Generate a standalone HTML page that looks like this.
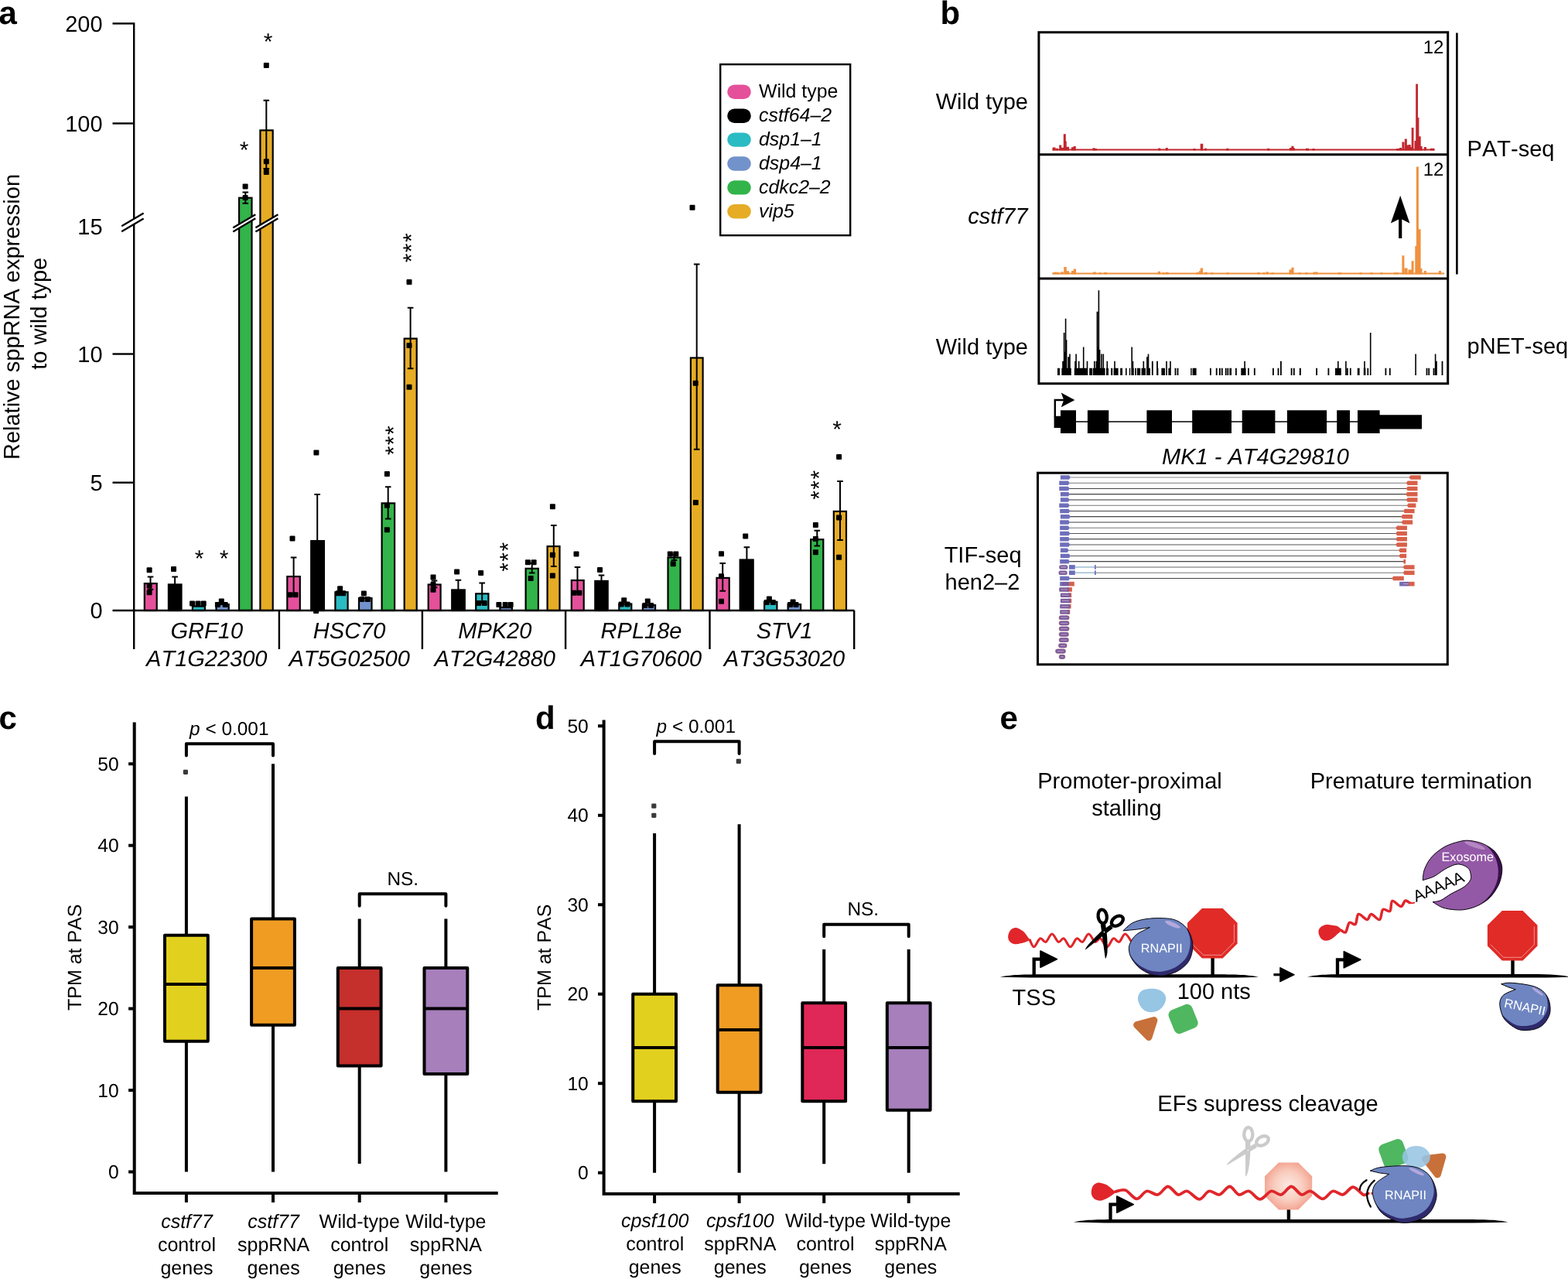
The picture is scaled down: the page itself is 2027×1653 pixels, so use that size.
<!DOCTYPE html>
<html lang="en"><head><meta charset="utf-8"><title>Figure</title>
<style>
html,body{margin:0;padding:0;background:#fff;}
body{width:2027px;height:1653px;overflow:hidden;font-family:"Liberation Sans",Arial,Helvetica,sans-serif;}
svg{display:block;font-kerning:none;text-rendering:geometricPrecision;}
</style></head><body>
<svg width="2027" height="1653" viewBox="0 0 2027 1653">
<rect width="2027" height="1653" fill="#fff"/>
<g id="pa">
<rect x="186.8" y="754.1" width="15.9" height="34.9" fill="#E5509B" stroke="#000" stroke-width="2.2"/>
<rect x="217.9" y="755.4" width="16.6" height="33.6" fill="#000000" stroke="#000" stroke-width="2.2"/>
<rect x="248.9" y="783.6" width="16" height="5.4" fill="#2BBBC3" stroke="#000" stroke-width="2.2"/>
<rect x="279.5" y="781.1" width="16.2" height="7.9" fill="#7292CB" stroke="#000" stroke-width="2.2"/>
<rect x="309.1" y="255.7" width="16.4" height="533.3" fill="#32B44A" stroke="#000" stroke-width="2.2"/>
<rect x="336.4" y="168.4" width="16.3" height="620.6" fill="#E6AC25" stroke="#000" stroke-width="2.2"/>
<rect x="371.3" y="745.1" width="16.5" height="43.9" fill="#E5509B" stroke="#000" stroke-width="2.2"/>
<rect x="402.2" y="699.1" width="16.7" height="89.9" fill="#000000" stroke="#000" stroke-width="2.2"/>
<rect x="433.4" y="765.3" width="16.2" height="23.7" fill="#2BBBC3" stroke="#000" stroke-width="2.2"/>
<rect x="464" y="773.1" width="16.5" height="15.9" fill="#7292CB" stroke="#000" stroke-width="2.2"/>
<rect x="493.6" y="650.4" width="16.5" height="138.6" fill="#32B44A" stroke="#000" stroke-width="2.2"/>
<rect x="522.7" y="437.6" width="16" height="351.4" fill="#E6AC25" stroke="#000" stroke-width="2.2"/>
<rect x="553.7" y="755.5" width="15.9" height="33.5" fill="#E5509B" stroke="#000" stroke-width="2.2"/>
<rect x="584.2" y="762.4" width="16.6" height="26.6" fill="#000000" stroke="#000" stroke-width="2.2"/>
<rect x="615.2" y="767.3" width="16.2" height="21.7" fill="#2BBBC3" stroke="#000" stroke-width="2.2"/>
<rect x="646.4" y="785.1" width="15.5" height="3.9" fill="#7292CB" stroke="#000" stroke-width="2.2"/>
<rect x="679.6" y="734.8" width="16.3" height="54.2" fill="#32B44A" stroke="#000" stroke-width="2.2"/>
<rect x="707.6" y="706.1" width="15.9" height="82.9" fill="#E6AC25" stroke="#000" stroke-width="2.2"/>
<rect x="738.8" y="750" width="15.9" height="39" fill="#E5509B" stroke="#000" stroke-width="2.2"/>
<rect x="769.3" y="750.9" width="16.4" height="38.1" fill="#000000" stroke="#000" stroke-width="2.2"/>
<rect x="800.3" y="780.5" width="16" height="8.5" fill="#2BBBC3" stroke="#000" stroke-width="2.2"/>
<rect x="830.9" y="782.1" width="16.2" height="6.9" fill="#7292CB" stroke="#000" stroke-width="2.2"/>
<rect x="863.5" y="720.5" width="16.1" height="68.5" fill="#32B44A" stroke="#000" stroke-width="2.2"/>
<rect x="892.9" y="462.5" width="15.7" height="326.5" fill="#E6AC25" stroke="#000" stroke-width="2.2"/>
<rect x="926.5" y="746.9" width="16.2" height="42.1" fill="#E5509B" stroke="#000" stroke-width="2.2"/>
<rect x="956.7" y="723.5" width="17" height="65.5" fill="#000000" stroke="#000" stroke-width="2.2"/>
<rect x="988.1" y="777.8" width="16.3" height="11.2" fill="#2BBBC3" stroke="#000" stroke-width="2.2"/>
<rect x="1018.6" y="781.1" width="16.5" height="7.9" fill="#7292CB" stroke="#000" stroke-width="2.2"/>
<rect x="1048.1" y="697.2" width="16.2" height="91.8" fill="#32B44A" stroke="#000" stroke-width="2.2"/>
<rect x="1077.8" y="660.9" width="16.2" height="128.1" fill="#E6AC25" stroke="#000" stroke-width="2.2"/>
<path d="M173.2 29.2V790.2" stroke="#000" stroke-width="2.4" fill="none"/>
<path d="M145.5 789H1104.5" stroke="#000" stroke-width="2.4" fill="none"/>
<path d="M145.5 30.4H173.2" stroke="#000" stroke-width="2.4"/>
<path d="M145.5 159.5H173.2" stroke="#000" stroke-width="2.4"/>
<path d="M145.5 457.5H173.2" stroke="#000" stroke-width="2.4"/>
<path d="M145.5 623.7H173.2" stroke="#000" stroke-width="2.4"/>
<path d="M173.2 789V839" stroke="#000" stroke-width="2.4"/>
<path d="M360.9 789V839" stroke="#000" stroke-width="2.4"/>
<path d="M545.9 789V839" stroke="#000" stroke-width="2.4"/>
<path d="M731.1 789V839" stroke="#000" stroke-width="2.4"/>
<path d="M917.5 789V839" stroke="#000" stroke-width="2.4"/>
<path d="M1104.2 789V839" stroke="#000" stroke-width="2.4"/>
<polygon points="157.2,292.28 185.6,275.52 185.6,282.52 157.2,299.28" fill="#fff"/>
<path d="M157.2 292.28L185.6 275.52M157.2 299.28L185.6 282.52" stroke="#000" stroke-width="2.3" fill="none"/>
<polygon points="301.3,294.25 330.3,277.14 330.3,282.35 301.3,299.46" fill="#fff"/>
<path d="M301.3 294.25L330.3 277.14M301.3 299.46L330.3 282.35" stroke="#000" stroke-width="2.3" fill="none"/>
<polygon points="330.4,294.25 359.4,277.14 359.4,282.35 330.4,299.46" fill="#fff"/>
<path d="M330.4 294.25L359.4 277.14M330.4 299.46L359.4 282.35" stroke="#000" stroke-width="2.3" fill="none"/>
<path d="M194.5 745.4V761.8 M190.7 745.4H198.3 M190.7 761.8H198.3" stroke="#000" stroke-width="2" fill="none"/>
<path d="M226.1 745.4V756.3 M222.3 745.4H229.9" stroke="#000" stroke-width="2" fill="none"/>
<path d="M317.3 248.6V262.8 M313.5 248.6H321.1 M313.5 262.8H321.1" stroke="#000" stroke-width="2" fill="none"/>
<path d="M344.3 129.8V218 M340.5 129.8H348.1 M340.5 218H348.1" stroke="#000" stroke-width="2" fill="none"/>
<path d="M379.6 720.4V768.7 M375.8 720.4H383.4 M375.8 768.7H383.4" stroke="#000" stroke-width="2" fill="none"/>
<path d="M410.2 639V700 M406.4 639H414" stroke="#000" stroke-width="2" fill="none"/>
<path d="M501.7 629.2V670.6 M497.9 629.2H505.5 M497.9 670.6H505.5" stroke="#000" stroke-width="2" fill="none"/>
<path d="M530.6 397.7V476.2 M526.8 397.7H534.4 M526.8 476.2H534.4" stroke="#000" stroke-width="2" fill="none"/>
<path d="M561.5 750.4V759.3 M557.7 750.4H565.3 M557.7 759.3H565.3" stroke="#000" stroke-width="2" fill="none"/>
<path d="M592.4 749.8V763.3 M588.6 749.8H596.2" stroke="#000" stroke-width="2" fill="none"/>
<path d="M623.2 753.4V779 M619.4 753.4H627 M619.4 779H627" stroke="#000" stroke-width="2" fill="none"/>
<path d="M687.7 727.7V740.6 M683.9 727.7H691.5 M683.9 740.6H691.5" stroke="#000" stroke-width="2" fill="none"/>
<path d="M715.8 679V732.1 M712 679H719.6 M712 732.1H719.6" stroke="#000" stroke-width="2" fill="none"/>
<path d="M746.5 733V766 M742.7 733H750.3 M742.7 766H750.3" stroke="#000" stroke-width="2" fill="none"/>
<path d="M777.5 743.5V751.8 M773.7 743.5H781.3" stroke="#000" stroke-width="2" fill="none"/>
<path d="M871.5 716.5V724 M867.7 716.5H875.3 M867.7 724H875.3" stroke="#000" stroke-width="2" fill="none"/>
<path d="M900.7 341.6V580.7 M896.9 341.6H904.5 M896.9 580.7H904.5" stroke="#000" stroke-width="2" fill="none"/>
<path d="M934.2 728.1V763.7 M930.4 728.1H938 M930.4 763.7H938" stroke="#000" stroke-width="2" fill="none"/>
<path d="M965.4 707.2V724.4 M961.6 707.2H969.2" stroke="#000" stroke-width="2" fill="none"/>
<path d="M1056.3 685.8V705.5 M1052.5 685.8H1060.1 M1052.5 705.5H1060.1" stroke="#000" stroke-width="2" fill="none"/>
<path d="M1086 622V697.9 M1082.2 622H1089.8 M1082.2 697.9H1089.8" stroke="#000" stroke-width="2" fill="none"/>
<rect x="189.6" y="733.2" width="7" height="7" rx="1" fill="#000"/>
<rect x="189.6" y="753.4" width="7" height="7" rx="1" fill="#000"/>
<rect x="189.6" y="762.2" width="7" height="7" rx="1" fill="#000"/>
<rect x="221" y="731.9" width="7" height="7" rx="1" fill="#000"/>
<rect x="245" y="776.5" width="7" height="7" rx="1" fill="#000"/>
<rect x="252.5" y="776.5" width="7" height="7" rx="1" fill="#000"/>
<rect x="259.7" y="776.5" width="7" height="7" rx="1" fill="#000"/>
<rect x="282.8" y="773.5" width="7" height="7" rx="1" fill="#000"/>
<rect x="277.9" y="778" width="7" height="7" rx="1" fill="#000"/>
<rect x="287.7" y="778" width="7" height="7" rx="1" fill="#000"/>
<rect x="313.6" y="237.6" width="7" height="7" rx="1" fill="#000"/>
<rect x="313.6" y="252" width="7" height="7" rx="1" fill="#000"/>
<rect x="340.8" y="81" width="7" height="7" rx="1" fill="#000"/>
<rect x="340.8" y="205.3" width="7" height="7" rx="1" fill="#000"/>
<rect x="340.8" y="219.1" width="7" height="7" rx="1" fill="#000"/>
<rect x="374.5" y="692.6" width="7" height="7" rx="1" fill="#000"/>
<rect x="371.5" y="765.2" width="7" height="7" rx="1" fill="#000"/>
<rect x="378.5" y="765.2" width="7" height="7" rx="1" fill="#000"/>
<rect x="405.4" y="581.6" width="7" height="7" rx="1" fill="#000"/>
<rect x="405.1" y="785.9" width="7" height="7" rx="1" fill="#000"/>
<rect x="436.1" y="757.3" width="7" height="7" rx="1" fill="#000"/>
<rect x="433.7" y="763.2" width="7" height="7" rx="1" fill="#000"/>
<rect x="440.2" y="763.2" width="7" height="7" rx="1" fill="#000"/>
<rect x="466.9" y="763.6" width="7" height="7" rx="1" fill="#000"/>
<rect x="464.3" y="771.1" width="7" height="7" rx="1" fill="#000"/>
<rect x="471.8" y="771.1" width="7" height="7" rx="1" fill="#000"/>
<rect x="496.9" y="608.9" width="7" height="7" rx="1" fill="#000"/>
<rect x="496.9" y="649.8" width="7" height="7" rx="1" fill="#000"/>
<rect x="496.9" y="681.3" width="7" height="7" rx="1" fill="#000"/>
<rect x="525.5" y="361" width="7" height="7" rx="1" fill="#000"/>
<rect x="525.5" y="443.1" width="7" height="7" rx="1" fill="#000"/>
<rect x="525.5" y="496.8" width="7" height="7" rx="1" fill="#000"/>
<rect x="556.5" y="742.5" width="7" height="7" rx="1" fill="#000"/>
<rect x="556.5" y="751.8" width="7" height="7" rx="1" fill="#000"/>
<rect x="556.5" y="758.7" width="7" height="7" rx="1" fill="#000"/>
<rect x="587.1" y="735.5" width="7" height="7" rx="1" fill="#000"/>
<rect x="618.1" y="736.9" width="7" height="7" rx="1" fill="#000"/>
<rect x="615.2" y="775.9" width="7" height="7" rx="1" fill="#000"/>
<rect x="622.7" y="775.9" width="7" height="7" rx="1" fill="#000"/>
<rect x="641.4" y="778.1" width="7" height="7" rx="1" fill="#000"/>
<rect x="649.7" y="778.1" width="7" height="7" rx="1" fill="#000"/>
<rect x="656.6" y="778.1" width="7" height="7" rx="1" fill="#000"/>
<rect x="678.9" y="723.3" width="7" height="7" rx="1" fill="#000"/>
<rect x="686.6" y="723.3" width="7" height="7" rx="1" fill="#000"/>
<rect x="682.7" y="744" width="7" height="7" rx="1" fill="#000"/>
<rect x="710.9" y="651.2" width="7" height="7" rx="1" fill="#000"/>
<rect x="710.9" y="713.8" width="7" height="7" rx="1" fill="#000"/>
<rect x="710.9" y="740.6" width="7" height="7" rx="1" fill="#000"/>
<rect x="741.5" y="712.4" width="7" height="7" rx="1" fill="#000"/>
<rect x="738.5" y="762.7" width="7" height="7" rx="1" fill="#000"/>
<rect x="745.4" y="762.7" width="7" height="7" rx="1" fill="#000"/>
<rect x="772" y="733.1" width="7" height="7" rx="1" fill="#000"/>
<rect x="803.2" y="772.2" width="7" height="7" rx="1" fill="#000"/>
<rect x="799.7" y="777.5" width="7" height="7" rx="1" fill="#000"/>
<rect x="807.5" y="777.5" width="7" height="7" rx="1" fill="#000"/>
<rect x="833.8" y="773.5" width="7" height="7" rx="1" fill="#000"/>
<rect x="830.2" y="779.1" width="7" height="7" rx="1" fill="#000"/>
<rect x="838.1" y="779.1" width="7" height="7" rx="1" fill="#000"/>
<rect x="862.8" y="712.4" width="7" height="7" rx="1" fill="#000"/>
<rect x="870.3" y="712.4" width="7" height="7" rx="1" fill="#000"/>
<rect x="866.7" y="725.2" width="7" height="7" rx="1" fill="#000"/>
<rect x="891.5" y="264.8" width="7" height="7" rx="1" fill="#000"/>
<rect x="895.7" y="491.8" width="7" height="7" rx="1" fill="#000"/>
<rect x="895.9" y="646" width="7" height="7" rx="1" fill="#000"/>
<rect x="929" y="712.3" width="7" height="7" rx="1" fill="#000"/>
<rect x="929" y="741.3" width="7" height="7" rx="1" fill="#000"/>
<rect x="929" y="773.7" width="7" height="7" rx="1" fill="#000"/>
<rect x="960.2" y="689.5" width="7" height="7" rx="1" fill="#000"/>
<rect x="990.9" y="770.5" width="7" height="7" rx="1" fill="#000"/>
<rect x="987.7" y="774.9" width="7" height="7" rx="1" fill="#000"/>
<rect x="995.8" y="774.9" width="7" height="7" rx="1" fill="#000"/>
<rect x="1021.6" y="774.4" width="7" height="7" rx="1" fill="#000"/>
<rect x="1018" y="778" width="7" height="7" rx="1" fill="#000"/>
<rect x="1025.5" y="778" width="7" height="7" rx="1" fill="#000"/>
<rect x="1050.9" y="675" width="7" height="7" rx="1" fill="#000"/>
<rect x="1050.9" y="693.1" width="7" height="7" rx="1" fill="#000"/>
<rect x="1050.9" y="710.3" width="7" height="7" rx="1" fill="#000"/>
<rect x="1081.1" y="587" width="7" height="7" rx="1" fill="#000"/>
<rect x="1081.1" y="665.6" width="7" height="7" rx="1" fill="#000"/>
<rect x="1081.1" y="716.7" width="7" height="7" rx="1" fill="#000"/>
<g font-family="'Liberation Sans',Arial,Helvetica,sans-serif" font-size="29" fill="#000">
<text x="132.6" y="40.7" text-anchor="end">200</text>
<text x="132.6" y="169.8" text-anchor="end">100</text>
<text x="132.6" y="302.8" text-anchor="end">15</text>
<text x="132.6" y="467.8" text-anchor="end">10</text>
<text x="132.6" y="634" text-anchor="end">5</text>
<text x="132.6" y="799.3" text-anchor="end">0</text>
<text transform="translate(25.2 409.5) rotate(-90)" text-anchor="middle">Relative sppRNA expression</text>
<text transform="translate(59.8 405.3) rotate(-90)" text-anchor="middle">to wild type</text>
<text x="267.3" y="825.2" text-anchor="middle" font-style="italic">GRF10</text>
<text x="267.3" y="860.6" text-anchor="middle" font-style="italic">AT1G22300</text>
<text x="451.6" y="825.2" text-anchor="middle" font-style="italic">HSC70</text>
<text x="451.6" y="860.6" text-anchor="middle" font-style="italic">AT5G02500</text>
<text x="639.8" y="825.2" text-anchor="middle" font-style="italic">MPK20</text>
<text x="639.8" y="860.6" text-anchor="middle" font-style="italic">AT2G42880</text>
<text x="829" y="825.2" text-anchor="middle" font-style="italic">RPL18e</text>
<text x="829" y="860.6" text-anchor="middle" font-style="italic">AT1G70600</text>
<text x="1014" y="825.2" text-anchor="middle" font-style="italic">STV1</text>
<text x="1014" y="860.6" text-anchor="middle" font-style="italic">AT3G53020</text>
<text x="346.5" y="63.9" text-anchor="middle" font-size="30">*</text>
<text x="315.5" y="204" text-anchor="middle" font-size="30">*</text>
<text x="257.7" y="732" text-anchor="middle" font-size="30">*</text>
<text x="289.6" y="732" text-anchor="middle" font-size="30">*</text>
<text x="1082.1" y="565.1" text-anchor="middle" font-size="30">*</text>
<text transform="translate(542.2 307.1) rotate(-90)" text-anchor="middle" font-size="30">*</text>
<text transform="translate(542.2 320.3) rotate(-90)" text-anchor="middle" font-size="30">*</text>
<text transform="translate(542.2 333.5) rotate(-90)" text-anchor="middle" font-size="30">*</text>
<text transform="translate(518.6 556.1) rotate(-90)" text-anchor="middle" font-size="30">*</text>
<text transform="translate(518.6 569.3) rotate(-90)" text-anchor="middle" font-size="30">*</text>
<text transform="translate(518.6 582.5) rotate(-90)" text-anchor="middle" font-size="30">*</text>
<text transform="translate(667.4 706.6) rotate(-90)" text-anchor="middle" font-size="30">*</text>
<text transform="translate(667.4 719.8) rotate(-90)" text-anchor="middle" font-size="30">*</text>
<text transform="translate(667.4 733) rotate(-90)" text-anchor="middle" font-size="30">*</text>
<text transform="translate(1068.6 613.6) rotate(-90)" text-anchor="middle" font-size="30">*</text>
<text transform="translate(1068.6 626.8) rotate(-90)" text-anchor="middle" font-size="30">*</text>
<text transform="translate(1068.6 640) rotate(-90)" text-anchor="middle" font-size="30">*</text>
</g>
<rect x="931.2" y="83.2" width="168" height="221" fill="#fff" stroke="#000" stroke-width="2.4"/>
<g font-family="'Liberation Sans',Arial,Helvetica,sans-serif" font-size="24.9" fill="#000">
<rect x="940.2" y="109.6" width="30.6" height="18.4" rx="9.2" fill="#E5509B"/>
<text x="981" y="126.4">Wild type</text>
<rect x="940.2" y="140.5" width="30.6" height="18.4" rx="9.2" fill="#000000"/>
<text x="981" y="157.3" font-style="italic">cstf64–2</text>
<rect x="940.2" y="171.4" width="30.6" height="18.4" rx="9.2" fill="#2BBBC3"/>
<text x="981" y="188.2" font-style="italic">dsp1–1</text>
<rect x="940.2" y="202.3" width="30.6" height="18.4" rx="9.2" fill="#7292CB"/>
<text x="981" y="219.1" font-style="italic">dsp4–1</text>
<rect x="940.2" y="233.2" width="30.6" height="18.4" rx="9.2" fill="#32B44A"/>
<text x="981" y="250" font-style="italic">cdkc2–2</text>
<rect x="940.2" y="264.1" width="30.6" height="18.4" rx="9.2" fill="#E6AC25"/>
<text x="981" y="280.9" font-style="italic">vip5</text>
</g>
<text x="-1.5" y="30.7" font-family="'Liberation Sans',Arial,sans-serif" font-weight="bold" font-size="42" fill="#000">a</text>
</g>
<g id="pb">
<path d="M1360.6 193.5H1854.8" stroke="#C1272D" stroke-width="2.0" fill="none"/>
<path d="M1360.6 194.5V190.6H1364.6V194.5ZM1365 194.5V191.8H1368V194.5ZM1369.2 194.5V187.6H1372.2V194.5ZM1372 194.5V190.8H1375V194.5ZM1374.8 194.5V173.3H1377.8V194.5ZM1377.25 194.5V182.5H1378.75V194.5ZM1378.6 194.5V189.8H1382V194.5ZM1385 194.5V190.3H1388V194.5ZM1387.6 194.5V189H1390.8V194.5ZM1412.5 194.5V191.2H1415.5V194.5ZM1415 194.5V192H1418V194.5ZM1497.2 194.5V191.4H1500.2V194.5ZM1506.8 194.5V191H1509.8V194.5ZM1542.5 194.5V192H1545.5V194.5ZM1551.7 194.5V185.7H1555.3V194.5ZM1557 194.5V191.8H1560V194.5ZM1585.3 194.5V191.8H1588.3V194.5ZM1638.2 194.5V191.8H1641.2V194.5ZM1667 194.5V191H1670V194.5ZM1669.4 194.5V188.8H1672.4V194.5ZM1671.8 194.5V191H1673.8V194.5ZM1688 194.5V191.8H1692V194.5ZM1696.5 194.5V192H1699.5V194.5ZM1805 194.5V192H1809V194.5ZM1809 194.5V191H1812V194.5ZM1812.4 194.5V183.5H1815.4V194.5ZM1815.8 194.5V179.5H1818.8V194.5ZM1818.75 194.5V187.5H1821.25V194.5ZM1820.7 194.5V187H1823.7V194.5ZM1823.2 194.5V190H1825.2V194.5ZM1824.7 194.5V165H1827.5V194.5ZM1828.5 194.5V182H1830.5V194.5ZM1830.2 194.5V108.4H1833V194.5ZM1832.4 194.5V152H1834.4V194.5ZM1833.7 194.5V176.2H1836.7V194.5ZM1836.6 194.5V189H1838.6V194.5ZM1840.9 194.5V190H1843.9V194.5ZM1849 194.5V191.7H1854V194.5Z" fill="#C1272D"/>
<path d="M1360.6 353.5H1867" stroke="#F0913E" stroke-width="2.0" fill="none"/>
<path d="M1360.5 354.5V352.2H1363.5V354.5ZM1363.3 354.5V351.4H1366.3V354.5ZM1366.5 354.5V352H1369.5V354.5ZM1371.4 354.5V351.3H1374.6V354.5ZM1375.25 354.5V345.1H1378.75V354.5ZM1378.6 354.5V350.3H1382V354.5ZM1385.1 354.5V350H1388.1V354.5ZM1387.8 354.5V347.6H1391V354.5ZM1412.8 354.5V351.6H1416.8V354.5ZM1420.5 354.5V352.2H1423.5V354.5ZM1427 354.5V352H1431V354.5ZM1496.7 354.5V350.8H1500.1V354.5ZM1502.5 354.5V352.2H1505.5V354.5ZM1506.6 354.5V351.8H1510.6V354.5ZM1546.5 354.5V352H1549.5V354.5ZM1549.8 354.5V350.3H1552.8V354.5ZM1551.7 354.5V346.4H1555.1V354.5ZM1556.8 354.5V351.8H1560.8V354.5ZM1565.5 354.5V352.3H1568.5V354.5ZM1585.5 354.5V352.2H1588.5V354.5ZM1625.5 354.5V352H1628.5V354.5ZM1632.5 354.5V352.2H1635.5V354.5ZM1636.7 354.5V351.2H1639.7V354.5ZM1643.5 354.5V352.3H1646.5V354.5ZM1666.5 354.5V348.4H1669.5V354.5ZM1669.4 354.5V345.7H1672.6V354.5ZM1678.5 354.5V352.2H1681.5V354.5ZM1687.5 354.5V352.2H1690.5V354.5ZM1697.6 354.5V351.6H1703.6V354.5ZM1729.5 354.5V352.3H1734.5V354.5ZM1757.5 354.5V352.2H1760.5V354.5ZM1771.5 354.5V352.3H1774.5V354.5ZM1784.5 354.5V352.3H1787.5V354.5ZM1802 354.5V352.2H1808V354.5ZM1812.4 354.5V330.3H1815.4V354.5ZM1815.6 354.5V346.4H1819.6V354.5ZM1820.45 354.5V348.5H1824.95V354.5ZM1824.6 354.5V337.3H1827.6V354.5ZM1829.3 354.5V318H1831.3V354.5ZM1830.9 354.5V215.5H1833.9V354.5ZM1833 354.5V296.3H1836.6V354.5ZM1836.5 354.5V347H1838.5V354.5ZM1840.8 354.5V350H1843.8V354.5ZM1859.9 354.5V350H1863.1V354.5Z" fill="#F0913E"/>
<path d="M1367 484.9V475.77H1370V484.9ZM1372.4 484.9V475.77H1384.8V484.9ZM1373.2 484.9V466.64H1374.8V484.9ZM1374.8 484.9V430.12H1376.4V484.9ZM1376.8 484.9V411.86H1378.4V484.9ZM1377.8 484.9V439.25H1379.4V484.9ZM1375.6 484.9V454.77H1377.6V484.9ZM1380.3 484.9V461.16H1382.1V484.9ZM1382.2 484.9V457.51H1383.8V484.9ZM1388.8 484.9V475.77H1405.9V484.9ZM1389.2 484.9V466.64H1390.8V484.9ZM1390.3 484.9V457.51H1391.9V484.9ZM1393.9 484.9V466.64H1395.5V484.9ZM1399.9 484.9V448.38H1401.5V484.9ZM1404.7 484.9V466.64H1406.3V484.9ZM1408.2 484.9V475.77H1412.2V484.9ZM1412.9 484.9V475.77H1428.6V484.9ZM1414 484.9V466.64H1415.6V484.9ZM1416.5 484.9V466.64H1418.1V484.9ZM1417.6 484.9V402.73H1419.4V484.9ZM1419.6 484.9V375.34H1421.2V484.9ZM1418 484.9V448.38H1421V484.9ZM1420.8 484.9V452.03H1422.4V484.9ZM1423.2 484.9V457.51H1424.8V484.9ZM1425.5 484.9V457.51H1427.1V484.9ZM1430 484.9V475.77H1433V484.9ZM1430.5 484.9V466.64H1432.1V484.9ZM1436.2 484.9V475.77H1438.2V484.9ZM1439.6 484.9V475.77H1445.6V484.9ZM1440.2 484.9V466.64H1441.8V484.9ZM1448.2 484.9V475.77H1451V484.9ZM1455 484.9V475.77H1456.6V484.9ZM1459.8 484.9V475.77H1461.2V484.9ZM1462.4 484.9V475.77H1465.8V484.9ZM1462.4 484.9V448.38H1464V484.9ZM1463.7 484.9V466.64H1465.3V484.9ZM1467.2 484.9V475.77H1469V484.9ZM1470 484.9V475.77H1474.2V484.9ZM1475.6 484.9V475.77H1481V484.9ZM1477.5 484.9V466.64H1479.1V484.9ZM1482 484.9V475.77H1487V484.9ZM1482.1 484.9V461.16H1483.7V484.9ZM1483.7 484.9V457.51H1485.3V484.9ZM1488.9 484.9V466.64H1490.7V484.9ZM1495.1 484.9V466.64H1496.9V484.9ZM1495.2 484.9V475.77H1497.4V484.9ZM1501.4 484.9V475.77H1506V484.9ZM1507.2 484.9V466.64H1508.8V484.9ZM1510.4 484.9V475.77H1513.8V484.9ZM1512.2 484.9V466.64H1513.8V484.9ZM1518.6 484.9V475.77H1520.4V484.9ZM1521.6 484.9V475.77H1523.4V484.9ZM1539.2 484.9V475.77H1540.6V484.9ZM1541.6 484.9V475.77H1546.6V484.9ZM1564 484.9V475.77H1565.8V484.9ZM1571.8 484.9V475.77H1573.6V484.9ZM1576 484.9V475.77H1577.8V484.9ZM1578.9 484.9V475.77H1580.7V484.9ZM1597 484.9V475.77H1598.8V484.9ZM1613 484.9V475.77H1614.8V484.9ZM1620.9 484.9V475.77H1622.7V484.9ZM1583.8 484.9V475.77H1585.6V484.9ZM1586.4 484.9V475.77H1588.2V484.9ZM1589.4 484.9V475.77H1592V484.9ZM1604.3 484.9V475.77H1610.6V484.9ZM1608.3 484.9V466.64H1609.9V484.9ZM1645 484.9V475.77H1646.8V484.9ZM1651.6 484.9V475.77H1653.4V484.9ZM1668.7 484.9V475.77H1670.5V484.9ZM1671.9 484.9V475.77H1673.7V484.9ZM1701.2 484.9V475.77H1703V484.9ZM1716.5 484.9V475.77H1718.3V484.9ZM1740.9 484.9V475.77H1742.7V484.9ZM1744.9 484.9V475.77H1746.7V484.9ZM1767.4 484.9V475.77H1769.2V484.9ZM1790.5 484.9V475.77H1792.3V484.9ZM1795.9 484.9V475.77H1797.7V484.9ZM1843.6 484.9V475.77H1845.4V484.9ZM1846.3 484.9V475.77H1848.1V484.9ZM1852.6 484.9V475.77H1854.4V484.9ZM1655 484.9V466.64H1656.8V484.9ZM1679.8 484.9V475.77H1681.8V484.9ZM1726 484.9V475.77H1733.8V484.9ZM1729 484.9V466.64H1730.6V484.9ZM1739.1 484.9V466.64H1740.7V484.9ZM1754.8 484.9V475.77H1757.6V484.9ZM1762.8 484.9V475.77H1765.4V484.9ZM1763.2 484.9V466.64H1764.8V484.9ZM1770.9 484.9V430.12H1772.5V484.9ZM1829.3 484.9V457.51H1830.9V484.9ZM1854.8 484.9V457.51H1856.4V484.9ZM1855.8 484.9V466.64H1857.8V484.9ZM1863.6 484.9V466.64H1865.4V484.9Z" fill="#000"/>
<path d="M1342.9 41.7H1871.7V495.8H1342.9ZM1342.9 199.8H1871.7M1342.9 359.9H1871.7" fill="none" stroke="#000" stroke-width="3"/>
<path d="M1883.4 42.4V354.6" stroke="#000" stroke-width="2.6" fill="none"/>
<path d="M1810.2 252.8L1822.4 288.6L1812.3 283.4V308H1808.1V283.4L1797.9 288.6Z" fill="#000"/>
<path d="M1371 545H1784" stroke="#000" stroke-width="1.4" fill="none"/>
<path d="M1362.6 537.7H1372V552.9H1362.6ZM1371 530.3H1391V559.9H1371ZM1405.9 530.3H1433.3V559.9H1405.9ZM1482.4 530.3H1515V559.9H1482.4ZM1541.2 530.3H1592V559.9H1541.2ZM1605.7 530.3H1648.4V559.9H1605.7ZM1663.9 530.3H1715.1V559.9H1663.9ZM1728.2 530.3H1745V559.9H1728.2ZM1755 530.3H1783.6V559.9H1755ZM1783 536.2H1838V554.4H1783Z" fill="#000"/>
<path d="M1363.8 538.5V517H1376" stroke="#000" stroke-width="2.4" fill="none"/>
<path d="M1389.4 517L1371.8 507.6L1375.2 517L1371.8 526.2Z" fill="#000"/>
<path d="M1383.1 617H1823.19" stroke="#8a8a8a" stroke-width="1.1" fill="none"/>
<path d="M1370.85 614.2H1382.1L1383.7 617L1382.1 619.8H1370.85Z" fill="#6E6FBB"/>
<path d="M1821.59 617L1823.39 614.2H1836.73V619.8H1823.39Z" fill="#D8604A"/>
<path d="M1381.96 624.25H1819.43" stroke="#777" stroke-width="1.1" fill="none"/>
<path d="M1369.22 621.45H1380.96L1382.56 624.25L1380.96 627.05H1369.22Z" fill="#6E6FBB"/>
<path d="M1817.83 624.25L1819.63 621.45H1832.48V627.05H1819.63Z" fill="#D8604A"/>
<path d="M1381.96 631.49H1819.43" stroke="#444" stroke-width="1.1" fill="none"/>
<path d="M1369.22 628.69H1380.96L1382.56 631.49L1380.96 634.29H1369.22Z" fill="#6E6FBB"/>
<path d="M1817.83 631.49L1819.63 628.69H1832.48V634.29H1819.63Z" fill="#D8604A"/>
<path d="M1382.29 638.74H1818.78" stroke="#111" stroke-width="1.1" fill="none"/>
<path d="M1370.85 635.94H1381.29L1382.89 638.74L1381.29 641.54H1370.85Z" fill="#6E6FBB"/>
<path d="M1817.18 638.74L1818.98 635.94H1832.48V641.54H1818.98Z" fill="#D8604A"/>
<path d="M1381.96 645.99H1819.43" stroke="#333" stroke-width="1.1" fill="none"/>
<path d="M1370.85 643.19H1380.96L1382.56 645.99L1380.96 648.79H1370.85Z" fill="#6E6FBB"/>
<path d="M1817.83 645.99L1819.63 643.19H1832.48V648.79H1819.63Z" fill="#D8604A"/>
<path d="M1381.96 653.24H1820.41" stroke="#777" stroke-width="1.1" fill="none"/>
<path d="M1369.22 650.44H1380.96L1382.56 653.24L1380.96 656.03H1369.22Z" fill="#6E6FBB"/>
<path d="M1818.81 653.24L1820.61 650.44H1830.36V656.03H1820.61Z" fill="#D8604A"/>
<path d="M1382.61 660.48H1815.51" stroke="#444" stroke-width="1.1" fill="none"/>
<path d="M1370.2 657.68H1381.61L1383.21 660.48L1381.61 663.28H1370.2Z" fill="#6E6FBB"/>
<path d="M1813.91 660.48L1815.71 657.68H1828.56V663.28H1815.71Z" fill="#D8604A"/>
<path d="M1383.1 667.73H1812.9" stroke="#111" stroke-width="1.1" fill="none"/>
<path d="M1370.85 664.93H1382.1L1383.7 667.73L1382.1 670.53H1370.85Z" fill="#6E6FBB"/>
<path d="M1811.3 667.73L1813.1 664.93H1826.11V670.53H1813.1Z" fill="#D8604A"/>
<path d="M1382.29 674.98H1813.22" stroke="#444" stroke-width="1.1" fill="none"/>
<path d="M1370.2 672.18H1381.29L1382.89 674.98L1381.29 677.78H1370.2Z" fill="#6E6FBB"/>
<path d="M1811.62 674.98L1813.42 672.18H1826.11V677.78H1813.42Z" fill="#D8604A"/>
<path d="M1381.96 682.22H1805.87" stroke="#777" stroke-width="1.1" fill="none"/>
<path d="M1370.2 679.42H1380.96L1382.56 682.22L1380.96 685.02H1370.2Z" fill="#6E6FBB"/>
<path d="M1804.27 682.22L1806.07 679.42H1818.92V685.02H1806.07Z" fill="#D8604A"/>
<path d="M1382.61 689.47H1805.87" stroke="#555" stroke-width="1.1" fill="none"/>
<path d="M1370.2 686.67H1381.61L1383.21 689.47L1381.61 692.27H1370.2Z" fill="#6E6FBB"/>
<path d="M1804.27 689.47L1806.07 686.67H1818.92V692.27H1806.07Z" fill="#D8604A"/>
<path d="M1382.29 696.72H1805.87" stroke="#222" stroke-width="1.1" fill="none"/>
<path d="M1370.2 693.92H1381.29L1382.89 696.72L1381.29 699.52H1370.2Z" fill="#6E6FBB"/>
<path d="M1804.27 696.72L1806.07 693.92H1818.92V699.52H1806.07Z" fill="#D8604A"/>
<path d="M1382.61 703.96H1805.87" stroke="#555" stroke-width="1.1" fill="none"/>
<path d="M1370.2 701.16H1381.61L1383.21 703.96L1381.61 706.76H1370.2Z" fill="#6E6FBB"/>
<path d="M1804.27 703.96L1806.07 701.16H1818.92V706.76H1806.07Z" fill="#D8604A"/>
<path d="M1380.98 711.21H1809.63" stroke="#777" stroke-width="1.1" fill="none"/>
<path d="M1370.85 708.41H1379.98L1381.58 711.21L1379.98 714.01H1370.85Z" fill="#6E6FBB"/>
<path d="M1808.03 711.21L1809.83 708.41H1818.1V714.01H1809.83Z" fill="#D8604A"/>
<path d="M1383.1 718.46H1809.95" stroke="#555" stroke-width="1.1" fill="none"/>
<path d="M1370.85 715.66H1382.1L1383.7 718.46L1382.1 721.26H1370.85Z" fill="#6E6FBB"/>
<path d="M1808.35 718.46L1810.15 715.66H1818.1V721.26H1810.15Z" fill="#D8604A"/>
<path d="M1382.29 725.71H1815.35" stroke="#111" stroke-width="1.1" fill="none"/>
<path d="M1370.2 722.91H1381.29L1382.89 725.71L1381.29 728.5H1370.2Z" fill="#6E6FBB"/>
<rect x="1814.35" y="722.91" width="2.78" height="5.6" fill="#D8604A"/>
<rect x="1369.22" y="730.15" width="11.11" height="5.6" rx="2.6" fill="#7D5C9C"/>
<path d="M1371.22 732.95H1378.33" stroke="#cfc6dc" stroke-width="0.9"/>
<rect x="1381.96" y="730.15" width="7.84" height="5.6" fill="#6E6FBB"/>
<path d="M1389.8 732.95H1415.29" stroke="#8db3cc" stroke-width="1.3"/>
<rect x="1414.97" y="730.15" width="1.8" height="5.6" fill="#6E6FBB"/>
<path d="M1416.93 732.95H1815.35" stroke="#666" stroke-width="1.1"/>
<path d="M1813.75 732.95L1815.55 730.15H1828.56V735.75H1815.55Z" fill="#D8604A"/>
<rect x="1368.56" y="737.4" width="11.11" height="5.6" rx="2.6" fill="#7D5C9C"/>
<path d="M1370.56 740.2H1377.67" stroke="#cfc6dc" stroke-width="0.9"/>
<rect x="1381.96" y="737.4" width="7.84" height="5.6" fill="#6E6FBB"/>
<path d="M1389.8 740.2H1415.29" stroke="#8db3cc" stroke-width="1.3"/>
<rect x="1414.97" y="737.4" width="1.8" height="5.6" fill="#6E6FBB"/>
<path d="M1416.93 740.2H1815.35" stroke="#777" stroke-width="1.1"/>
<path d="M1813.75 740.2L1815.55 737.4H1828.56V743H1815.55Z" fill="#D8604A"/>
<path d="M1382.61 747.45H1800.97" stroke="#444" stroke-width="1.1" fill="none"/>
<path d="M1370.2 744.65H1381.61L1383.21 747.45L1381.61 750.25H1370.2Z" fill="#6E6FBB"/>
<path d="M1799.37 747.45L1801.17 744.65H1814.84V750.25H1801.17Z" fill="#D8604A"/>
<rect x="1370.2" y="751.89" width="12.42" height="5.6" fill="#6E6FBB"/>
<rect x="1382.29" y="751.89" width="6.54" height="5.6" fill="#D8604A"/>
<rect x="1372.81" y="752.39" width="9.8" height="4.6" rx="2.4" fill="#7D5C9C"/>
<rect x="1809.12" y="751.89" width="12.58" height="5.6" fill="#6E6FBB"/>
<rect x="1821.37" y="751.89" width="7.19" height="5.6" fill="#D8604A"/>
<rect x="1812.71" y="752.39" width="9.15" height="4.6" rx="2.4" fill="#7D5C9C"/>
<path d="M1813.86 754.69H1820.72" stroke="#cfc6dc" stroke-width="0.9"/>
<rect x="1378.96" y="759.14" width="6.92" height="5.6" fill="#D8604A"/>
<rect x="1369.22" y="759.14" width="12.75" height="5.6" rx="1.2" fill="#7D5C9C"/>
<path d="M1371.22 761.94H1379.96" stroke="#b9a9cc" stroke-width="0.9"/>
<rect x="1380.92" y="766.39" width="4.31" height="5.6" fill="#D8604A"/>
<rect x="1370.85" y="766.39" width="13.07" height="5.6" rx="1.2" fill="#7D5C9C"/>
<path d="M1372.85 769.19H1381.92" stroke="#b9a9cc" stroke-width="0.9"/>
<rect x="1380.92" y="773.63" width="4.31" height="5.6" fill="#D8604A"/>
<rect x="1370.85" y="773.63" width="13.07" height="5.6" rx="1.2" fill="#7D5C9C"/>
<path d="M1372.85 776.43H1381.92" stroke="#b9a9cc" stroke-width="0.9"/>
<rect x="1380.27" y="780.88" width="4.31" height="5.6" fill="#D8604A"/>
<rect x="1370.2" y="780.88" width="13.07" height="5.6" rx="1.2" fill="#7D5C9C"/>
<path d="M1372.2 783.68H1381.27" stroke="#b9a9cc" stroke-width="0.9"/>
<rect x="1379.61" y="788.13" width="3.65" height="5.6" fill="#D8604A"/>
<rect x="1370.2" y="788.13" width="12.42" height="5.6" rx="1.2" fill="#7D5C9C"/>
<path d="M1372.2 790.93H1380.61" stroke="#b9a9cc" stroke-width="0.9"/>
<rect x="1368.72" y="795.38" width="13.75" height="5.6" rx="2.6" fill="#c9897f"/>
<rect x="1369.22" y="795.38" width="12.75" height="5.6" rx="2.6" fill="#7D5C9C"/>
<path d="M1371.22 798.17H1379.96" stroke="#b9a9cc" stroke-width="0.9"/>
<rect x="1368.72" y="802.62" width="13.75" height="5.6" rx="2.6" fill="#c9897f"/>
<rect x="1369.22" y="802.62" width="12.75" height="5.6" rx="2.6" fill="#7D5C9C"/>
<path d="M1371.22 805.42H1379.96" stroke="#b9a9cc" stroke-width="0.9"/>
<rect x="1368.72" y="809.87" width="13.75" height="5.6" rx="2.6" fill="#c9897f"/>
<rect x="1369.22" y="809.87" width="12.75" height="5.6" rx="2.6" fill="#7D5C9C"/>
<path d="M1371.22 812.67H1379.96" stroke="#b9a9cc" stroke-width="0.9"/>
<rect x="1368.72" y="817.12" width="13.09" height="5.6" rx="2.6" fill="#c9897f"/>
<rect x="1369.22" y="817.12" width="12.09" height="5.6" rx="2.6" fill="#7D5C9C"/>
<path d="M1371.22 819.92H1379.31" stroke="#b9a9cc" stroke-width="0.9"/>
<rect x="1368.72" y="824.36" width="13.09" height="5.6" rx="2.6" fill="#c9897f"/>
<rect x="1369.22" y="824.36" width="12.09" height="5.6" rx="2.6" fill="#7D5C9C"/>
<path d="M1371.22 827.16H1379.31" stroke="#b9a9cc" stroke-width="0.9"/>
<rect x="1368.06" y="831.61" width="11.46" height="5.6" rx="2.6" fill="#c9897f"/>
<rect x="1368.56" y="831.61" width="10.46" height="5.6" rx="2.6" fill="#7D5C9C"/>
<path d="M1370.56 834.41H1377.02" stroke="#b9a9cc" stroke-width="0.9"/>
<rect x="1364.14" y="838.86" width="13.75" height="5.6" rx="2.6" fill="#c9897f"/>
<rect x="1364.64" y="838.86" width="12.75" height="5.6" rx="2.6" fill="#7D5C9C"/>
<path d="M1366.64 841.66H1375.39" stroke="#b9a9cc" stroke-width="0.9"/>
<rect x="1368.72" y="846.1" width="8.52" height="5.6" rx="2.6" fill="#c9897f"/>
<rect x="1369.22" y="846.1" width="7.52" height="5.6" rx="2.6" fill="#7D5C9C"/>
<path d="M1371.22 848.9H1374.73" stroke="#b9a9cc" stroke-width="0.9"/>
<rect x="1341.5" y="611.2" width="529.8" height="247.6" fill="none" stroke="#000" stroke-width="3"/>
<g font-family="'Liberation Sans',Arial,Helvetica,sans-serif" font-size="29" fill="#000">
<text x="1329" y="141" text-anchor="end">Wild type</text>
<text x="1328.6" y="289.4" text-anchor="end" font-style="italic">cstf77</text>
<text x="1329" y="457.7" text-anchor="end">Wild type</text>
<text x="1896.6" y="202.4">PAT-seq</text>
<text x="1896.6" y="457.4">pNET-seq</text>
<text x="1623" y="599.5" text-anchor="middle" font-style="italic">MK1 - AT4G29810</text>
<text x="1270.6" y="727" text-anchor="middle">TIF-seq</text>
<text x="1270" y="762" text-anchor="middle">hen2–2</text>
<text x="1866.4" y="68.5" text-anchor="end" font-size="24">12</text>
<text x="1866.4" y="226.6" text-anchor="end" font-size="24">12</text>
</g>
<text x="1215.4" y="30.7" font-family="'Liberation Sans',Arial,Helvetica,sans-serif" font-weight="bold" font-size="42" fill="#000">b</text>
</g>
<g id="pc">
<path d="M240.9 1029.43V1208.69M240.9 1345.78V1514.5" stroke="#000" stroke-width="4" fill="none"/>
<rect x="213" y="1208.69" width="55.8" height="137.09" fill="#E2D01F" stroke="#000" stroke-width="4" stroke-linejoin="round"/>
<path d="M213 1271.96H268.8" stroke="#000" stroke-width="4"/>
<path d="M353 987.25V1187.61M353 1324.69V1514.5" stroke="#000" stroke-width="4" fill="none"/>
<rect x="325.1" y="1187.61" width="55.8" height="137.09" fill="#F09C23" stroke="#000" stroke-width="4" stroke-linejoin="round"/>
<path d="M325.1 1250.88H380.9" stroke="#000" stroke-width="4"/>
<path d="M464.7 1187.61V1250.88M464.7 1377.41V1503.95" stroke="#000" stroke-width="4" fill="none"/>
<rect x="436.8" y="1250.88" width="55.8" height="126.54" fill="#C52F2C" stroke="#000" stroke-width="4" stroke-linejoin="round"/>
<path d="M436.8 1303.6H492.6" stroke="#000" stroke-width="4"/>
<path d="M576.4 1187.61V1250.88M576.4 1387.96V1514.5" stroke="#000" stroke-width="4" fill="none"/>
<rect x="548.5" y="1250.88" width="55.8" height="137.09" fill="#A67FBB" stroke="#000" stroke-width="4" stroke-linejoin="round"/>
<path d="M548.5 1303.6H604.3" stroke="#000" stroke-width="4"/>
<rect x="236.8" y="994.69" width="6.2" height="6.2" rx="1.3" fill="#3a3a3a"/>
<path d="M173.7 933.5V1542.1H643.7" stroke="#000" stroke-width="4" fill="none" stroke-linejoin="miter"/>
<path d="M166.1 1514.5H173.7" stroke="#000" stroke-width="4"/>
<path d="M166.1 1409.05H173.7" stroke="#000" stroke-width="4"/>
<path d="M166.1 1303.6H173.7" stroke="#000" stroke-width="4"/>
<path d="M166.1 1198.15H173.7" stroke="#000" stroke-width="4"/>
<path d="M166.1 1092.7H173.7" stroke="#000" stroke-width="4"/>
<path d="M166.1 987.25H173.7" stroke="#000" stroke-width="4"/>
<path d="M240.9 1542.1V1554.1" stroke="#000" stroke-width="4"/>
<path d="M353 1542.1V1554.1" stroke="#000" stroke-width="4"/>
<path d="M464.7 1542.1V1554.1" stroke="#000" stroke-width="4"/>
<path d="M576.4 1542.1V1554.1" stroke="#000" stroke-width="4"/>
<path d="M240.9 976.4V961.2H353V976.4" stroke="#000" stroke-width="4" fill="none" stroke-linejoin="round" stroke-linecap="round"/>
<path d="M464.7 1170.8V1155.2H576.4V1170.8" stroke="#000" stroke-width="4" fill="none" stroke-linejoin="round" stroke-linecap="round"/>
<g font-family="'Liberation Sans',Arial,Helvetica,sans-serif" font-size="25" fill="#000">
<text x="153.6" y="1523.1" text-anchor="end" font-size="24.6">0</text>
<text x="153.6" y="1417.65" text-anchor="end" font-size="24.6">10</text>
<text x="153.6" y="1312.2" text-anchor="end" font-size="24.6">20</text>
<text x="153.6" y="1206.75" text-anchor="end" font-size="24.6">30</text>
<text x="153.6" y="1101.3" text-anchor="end" font-size="24.6">40</text>
<text x="153.6" y="995.85" text-anchor="end" font-size="24.6">50</text>
<text transform="translate(105.3 1237.3) rotate(-90)" text-anchor="middle">TPM at PAS</text>
<text x="296.25" y="949.6" text-anchor="middle" font-size="24.4"><tspan font-style="italic">p</tspan> &lt; 0.001</text>
<text x="520.8" y="1143.8" text-anchor="middle" font-size="24.4">NS.</text>
<text x="241.5" y="1587.1" text-anchor="middle" font-style="italic">cstf77</text>
<text x="241.5" y="1617.1" text-anchor="middle">control</text>
<text x="241.5" y="1646.7" text-anchor="middle">genes</text>
<text x="353.6" y="1587.1" text-anchor="middle" font-style="italic">cstf77</text>
<text x="353.6" y="1617.1" text-anchor="middle">sppRNA</text>
<text x="353.6" y="1646.7" text-anchor="middle">genes</text>
<text x="464.7" y="1587.1" text-anchor="middle">Wild-type</text>
<text x="464.7" y="1617.1" text-anchor="middle">control</text>
<text x="464.7" y="1646.7" text-anchor="middle">genes</text>
<text x="576.4" y="1587.1" text-anchor="middle">Wild-type</text>
<text x="576.4" y="1617.1" text-anchor="middle">sppRNA</text>
<text x="576.4" y="1646.7" text-anchor="middle">genes</text>
</g>
<text x="-1.5" y="942" font-family="'Liberation Sans',Arial,Helvetica,sans-serif" font-weight="bold" font-size="42" fill="#000">c</text>
</g><g id="pd">
<path d="M846.1 1076.88V1284.74M846.1 1423.32V1515.7" stroke="#000" stroke-width="4" fill="none"/>
<rect x="818.2" y="1284.74" width="55.8" height="138.58" fill="#E2D01F" stroke="#000" stroke-width="4" stroke-linejoin="round"/>
<path d="M818.2 1354.03H874" stroke="#000" stroke-width="4"/>
<path d="M955.6 1065.33V1273.19M955.6 1411.77V1515.7" stroke="#000" stroke-width="4" fill="none"/>
<rect x="927.7" y="1273.19" width="55.8" height="138.58" fill="#F09C23" stroke="#000" stroke-width="4" stroke-linejoin="round"/>
<path d="M927.7 1330.93H983.5" stroke="#000" stroke-width="4"/>
<path d="M1065.2 1227V1296.29M1065.2 1423.32V1504.15" stroke="#000" stroke-width="4" fill="none"/>
<rect x="1037.3" y="1296.29" width="55.8" height="127.03" fill="#DF2857" stroke="#000" stroke-width="4" stroke-linejoin="round"/>
<path d="M1037.3 1354.03H1093.1" stroke="#000" stroke-width="4"/>
<path d="M1174.7 1227V1296.29M1174.7 1434.86V1515.7" stroke="#000" stroke-width="4" fill="none"/>
<rect x="1146.8" y="1296.29" width="55.8" height="138.58" fill="#A67FBB" stroke="#000" stroke-width="4" stroke-linejoin="round"/>
<path d="M1146.8 1354.03H1202.6" stroke="#000" stroke-width="4"/>
<rect x="842.2" y="1038.55" width="6.2" height="6.2" rx="1.3" fill="#3a3a3a"/>
<rect x="842.2" y="1050.68" width="6.2" height="6.2" rx="1.3" fill="#3a3a3a"/>
<rect x="951.7" y="980.81" width="6.2" height="6.2" rx="1.3" fill="#3a3a3a"/>
<path d="M780.6 930.6V1543.1H1240.7" stroke="#000" stroke-width="4" fill="none" stroke-linejoin="miter"/>
<path d="M773 1515.7H780.6" stroke="#000" stroke-width="4"/>
<path d="M773 1400.22H780.6" stroke="#000" stroke-width="4"/>
<path d="M773 1284.74H780.6" stroke="#000" stroke-width="4"/>
<path d="M773 1169.26H780.6" stroke="#000" stroke-width="4"/>
<path d="M773 1053.78H780.6" stroke="#000" stroke-width="4"/>
<path d="M773 938.3H780.6" stroke="#000" stroke-width="4"/>
<path d="M846.1 1543.1V1555.1" stroke="#000" stroke-width="4"/>
<path d="M955.6 1543.1V1555.1" stroke="#000" stroke-width="4"/>
<path d="M1065.2 1543.1V1555.1" stroke="#000" stroke-width="4"/>
<path d="M1174.7 1543.1V1555.1" stroke="#000" stroke-width="4"/>
<path d="M846.1 973.9V958.3H955.6V973.9" stroke="#000" stroke-width="4" fill="none" stroke-linejoin="round" stroke-linecap="round"/>
<path d="M1065.2 1210.2V1194.8H1174.7V1210.2" stroke="#000" stroke-width="4" fill="none" stroke-linejoin="round" stroke-linecap="round"/>
<g font-family="'Liberation Sans',Arial,Helvetica,sans-serif" font-size="25" fill="#000">
<text x="760.8" y="1524.3" text-anchor="end" font-size="24.6">0</text>
<text x="760.8" y="1408.82" text-anchor="end" font-size="24.6">10</text>
<text x="760.8" y="1293.34" text-anchor="end" font-size="24.6">20</text>
<text x="760.8" y="1177.86" text-anchor="end" font-size="24.6">30</text>
<text x="760.8" y="1062.38" text-anchor="end" font-size="24.6">40</text>
<text x="760.8" y="946.9" text-anchor="end" font-size="24.6">50</text>
<text transform="translate(711.9 1237.3) rotate(-90)" text-anchor="middle">TPM at PAS</text>
<text x="899.75" y="947.4" text-anchor="middle" font-size="24.4"><tspan font-style="italic">p</tspan> &lt; 0.001</text>
<text x="1115.75" y="1183.2" text-anchor="middle" font-size="24.4">NS.</text>
<text x="846.7" y="1586.4" text-anchor="middle" font-style="italic">cpsf100</text>
<text x="846.7" y="1616.4" text-anchor="middle">control</text>
<text x="846.7" y="1646.1" text-anchor="middle">genes</text>
<text x="956.8" y="1586.4" text-anchor="middle" font-style="italic">cpsf100</text>
<text x="956.8" y="1616.4" text-anchor="middle">sppRNA</text>
<text x="956.8" y="1646.1" text-anchor="middle">genes</text>
<text x="1067" y="1586.4" text-anchor="middle">Wild-type</text>
<text x="1067" y="1616.4" text-anchor="middle">control</text>
<text x="1067" y="1646.1" text-anchor="middle">genes</text>
<text x="1177.3" y="1586.4" text-anchor="middle">Wild-type</text>
<text x="1177.3" y="1616.4" text-anchor="middle">sppRNA</text>
<text x="1177.3" y="1646.1" text-anchor="middle">genes</text>
</g>
<text x="692" y="942" font-family="'Liberation Sans',Arial,Helvetica,sans-serif" font-weight="bold" font-size="42" fill="#000">d</text>
</g>
<g id="pe">
<defs><radialGradient id="fadeg" cx="0.5" cy="0.5" r="0.55"><stop offset="0" stop-color="#FCE9E2"/><stop offset="0.55" stop-color="#F9CDBF"/><stop offset="1" stop-color="#F2A08C"/></radialGradient></defs>
<path d="M1331.3 1214.9C1332.2 1216.38 1334.48 1224.13 1336.7 1223.8C1338.92 1223.47 1342.05 1213.97 1344.6 1212.9C1347.15 1211.83 1349.45 1218.38 1352 1217.4C1354.55 1216.42 1357.18 1207 1359.9 1207C1362.62 1207 1365.75 1216.42 1368.3 1217.4C1370.85 1218.38 1372.65 1211.83 1375.2 1212.9C1377.75 1213.97 1380.8 1223.8 1383.6 1223.8C1386.4 1223.8 1389.37 1213.97 1392 1212.9C1394.63 1211.83 1396.85 1218.38 1399.4 1217.4C1401.95 1216.42 1404.58 1207 1407.3 1207C1410.02 1207 1413.15 1216.42 1415.7 1217.4C1418.25 1218.38 1420.05 1211.83 1422.6 1212.9C1425.15 1213.97 1428.22 1223.8 1431 1223.8C1433.78 1223.8 1436.68 1213.97 1439.3 1212.9C1441.92 1211.83 1444.15 1218.38 1446.7 1217.4C1449.25 1216.42 1451.8 1206.8 1454.6 1207C1457.4 1207.2 1462.02 1216.67 1463.5 1218.6" fill="none" stroke="#E0262B" stroke-width="3.1" stroke-linejoin="round" stroke-linecap="round"/>
<path d="M0 0C-3 -3.5 -5.6 -8.4 -8.9 -11.4C-10.38 -12.13 -15.17 -15.48 -17.8 -15.8C-20.43 -16.12 -22.93 -15.03 -24.7 -13.3C-26.47 -11.57 -28.08 -7.87 -28.4 -5.4C-28.72 -2.93 -28.05 -0.3 -26.6 1.5C-25.15 3.3 -22.48 5 -19.7 5.4C-16.92 5.8 -11.53 4.15 -9.9 3.9C-6 2.6 -3 1.2 0 0Z" transform="translate(1331.6 1214.9) rotate(0) scale(1)" fill="#E0262B"/>
<path d="M1292.8 1262.7C1304.8 1259.8 1322.8 1259.2 1352.8 1259.2H1567C1597 1259.2 1615 1259.8 1627 1262.7C1607 1263.6 1587 1263.6 1567 1263.6H1332.8Z" fill="#000"/>
<path d="M1336.7 1260.5V1239.6H1345.7" stroke="#000" stroke-width="4.3" fill="none"/>
<path d="M1345 1229L1366.5 1239.6L1345 1250.2Z" fill="#000" stroke="#000" stroke-width="1.6" stroke-linejoin="round"/>
<g transform="translate(1427.5 1204.7) rotate(-7.8) scale(1)" fill="#000" stroke="none">
<path d="M-3.3 -10.6L3 -10.6L3 2.4Q2.9 8 2.2 13.3Q1.6 21 0.3 26.9Q-0.8 31.4 -2.7 34L-3.3 33.4L-3.3 0.3Z"/>
<path d="M9 -8.4L11.7 -3.5L3 1.4L-10.6 9.5L-26.9 19.2L-27.3 18.5Q-25 15 -21.5 12.2Q-13 5 -3.3 -1.9Z"/>
<ellipse cx="0.5" cy="-20.4" rx="5.6" ry="8.9" fill="none" stroke="#000" stroke-width="4.3"/>
<ellipse cx="18.7" cy="-12" rx="8.3" ry="5.5" transform="rotate(-28 18.7 -12)" fill="none" stroke="#000" stroke-width="4.3"/>
<circle cx="0" cy="0" r="0.85" fill="#fff"/>
</g>
<path d="M1567.6 1237.5V1261" stroke="#000" stroke-width="4.4" fill="none"/>
<path d="M1553.92 1173.9L1580.68 1173.9L1599.6 1192.82L1599.6 1219.58L1580.68 1238.5L1553.92 1238.5L1535 1219.58L1535 1192.82Z" fill="#E02B27"/>
<path d="M1595.4 1194.56L1595.4 1217.84L1578.94 1234.3L1555.66 1234.3L1539.2 1217.84" fill="none" stroke="#fff" stroke-opacity="0.55" stroke-width="0.9"/>
<g transform="translate(1500.5 1223.8) rotate(0) scale(1)">
<clipPath id="r1"><path d="M-48.7 -20.9C-46.7 -22.57 -41.53 -28.38 -36.7 -30.9C-31.87 -33.42 -26.32 -34.97 -19.7 -36C-13.08 -37.03 -3.62 -37.38 3 -37.1C9.62 -36.82 14.9 -36.47 20 -34.3C25.1 -32.13 30.2 -28.27 33.6 -24.1C37 -19.93 39.17 -14.03 40.4 -9.3C41.63 -4.57 41.75 -0.42 41 4.3C40.25 9.02 38.83 14.65 35.9 19C32.97 23.35 27.95 27.55 23.4 30.4C18.85 33.25 12.77 34.97 8.6 36.1C4.43 37.23 2.18 37.4 -1.6 37.2C-5.38 37 -9.75 36.6 -14.1 34.9C-18.45 33.2 -23.73 30.4 -27.7 27C-31.67 23.6 -35.67 18.48 -37.9 14.5C-40.13 10.52 -40.92 6.5 -41.1 3.1C-41.28 -0.3 -40.67 -2.7 -39 -5.9C-37.33 -9.1 -35.25 -12.88 -31.1 -16.1C-26.95 -19.32 -16.93 -23.68 -14.1 -25.2Q-30 -22.2 -48.7 -20.9 Z"/></clipPath>
<path d="M-48.7 -20.9C-46.7 -22.57 -41.53 -28.38 -36.7 -30.9C-31.87 -33.42 -26.32 -34.97 -19.7 -36C-13.08 -37.03 -3.62 -37.38 3 -37.1C9.62 -36.82 14.9 -36.47 20 -34.3C25.1 -32.13 30.2 -28.27 33.6 -24.1C37 -19.93 39.17 -14.03 40.4 -9.3C41.63 -4.57 41.75 -0.42 41 4.3C40.25 9.02 38.83 14.65 35.9 19C32.97 23.35 27.95 27.55 23.4 30.4C18.85 33.25 12.77 34.97 8.6 36.1C4.43 37.23 2.18 37.4 -1.6 37.2C-5.38 37 -9.75 36.6 -14.1 34.9C-18.45 33.2 -23.73 30.4 -27.7 27C-31.67 23.6 -35.67 18.48 -37.9 14.5C-40.13 10.52 -40.92 6.5 -41.1 3.1C-41.28 -0.3 -40.67 -2.7 -39 -5.9C-37.33 -9.1 -35.25 -12.88 -31.1 -16.1C-26.95 -19.32 -16.93 -23.68 -14.1 -25.2Q-30 -22.2 -48.7 -20.9 Z" fill="#2F2A6C"/>
<g clip-path="url(#r1)"><path d="M-48.7 -20.9C-46.7 -22.57 -41.53 -28.38 -36.7 -30.9C-31.87 -33.42 -26.32 -34.97 -19.7 -36C-13.08 -37.03 -3.62 -37.38 3 -37.1C9.62 -36.82 14.9 -36.47 20 -34.3C25.1 -32.13 30.2 -28.27 33.6 -24.1C37 -19.93 39.17 -14.03 40.4 -9.3C41.63 -4.57 41.75 -0.42 41 4.3C40.25 9.02 38.83 14.65 35.9 19C32.97 23.35 27.95 27.55 23.4 30.4C18.85 33.25 12.77 34.97 8.6 36.1C4.43 37.23 2.18 37.4 -1.6 37.2C-5.38 37 -9.75 36.6 -14.1 34.9C-18.45 33.2 -23.73 30.4 -27.7 27C-31.67 23.6 -35.67 18.48 -37.9 14.5C-40.13 10.52 -40.92 6.5 -41.1 3.1C-41.28 -0.3 -40.67 -2.7 -39 -5.9C-37.33 -9.1 -35.25 -12.88 -31.1 -16.1C-26.95 -19.32 -16.93 -23.68 -14.1 -25.2Q-30 -22.2 -48.7 -20.9 Z" transform="translate(-2.6 -4.6) scale(0.985)" fill="#6E85C1"/><path d="M-50 -22.5L-10 -38L-10 -18L-50 -19Z" fill="#6E85C1"/></g>
<path d="M-48.7 -20.9C-46.7 -22.57 -41.53 -28.38 -36.7 -30.9C-31.87 -33.42 -26.32 -34.97 -19.7 -36C-13.08 -37.03 -3.62 -37.38 3 -37.1C9.62 -36.82 14.9 -36.47 20 -34.3C25.1 -32.13 30.2 -28.27 33.6 -24.1C37 -19.93 39.17 -14.03 40.4 -9.3C41.63 -4.57 41.75 -0.42 41 4.3C40.25 9.02 38.83 14.65 35.9 19C32.97 23.35 27.95 27.55 23.4 30.4C18.85 33.25 12.77 34.97 8.6 36.1C4.43 37.23 2.18 37.4 -1.6 37.2C-5.38 37 -9.75 36.6 -14.1 34.9C-18.45 33.2 -23.73 30.4 -27.7 27C-31.67 23.6 -35.67 18.48 -37.9 14.5C-40.13 10.52 -40.92 6.5 -41.1 3.1C-41.28 -0.3 -40.67 -2.7 -39 -5.9C-37.33 -9.1 -35.25 -12.88 -31.1 -16.1C-26.95 -19.32 -16.93 -23.68 -14.1 -25.2Q-30 -22.2 -48.7 -20.9 Z" fill="none" stroke="#000" stroke-width="0.9" stroke-linejoin="round"/>
<ellipse cx="15.4" cy="-29" rx="10.6" ry="2.7" transform="rotate(23 15.4 -29)" fill="#B4A8DC"/>
</g>
<text transform="translate(1500.5 1223.8) rotate(0)" x="1.3" y="7.2" text-anchor="middle" font-family="'Liberation Sans',Arial,Helvetica,sans-serif" font-size="16.2" fill="#fff">RNAPII</text>
<path d="M-18 -4C-17.5 -6.92 -15.83 -10.63 -13 -12.5C-10.17 -14.37 -5 -15.12 -1 -15.2C3 -15.28 7.83 -14.7 11 -13C14.17 -11.3 17.17 -8 18 -5C18.83 -2 17.5 2.08 16 5C14.5 7.92 11.83 10.8 9 12.5C6.17 14.2 2.17 15.2 -1 15.2C-4.17 15.2 -7.5 14.2 -10 12.5C-12.5 10.8 -14.67 7.75 -16 5C-17.33 2.25 -18.5 -1.08 -18 -4Z" transform="translate(1489 1293)" fill="#97C5E4" fill-opacity="1"/>
<path d="M1469.6 1324.6L1491.9 1318.6L1485 1340.4Z" fill="#C8703A" stroke="#C8703A" stroke-width="9" stroke-linejoin="round" fill-opacity="1" stroke-opacity="1"/>
<rect x="1513.35" y="1300.65" width="32.5" height="32.5" rx="7" transform="rotate(-22 1529.6 1316.9)" fill="#4FB760"/>
<path d="M1646.4 1259.7H1658" stroke="#000" stroke-width="3.2" fill="none"/>
<path d="M1654.8 1250.6L1673.2 1259.7L1654.8 1268.8Z" fill="#000" stroke="#000" stroke-width="1.2" stroke-linejoin="round"/>
<path d="M1690 1262.6C1702 1259.7 1720 1259.1 1750 1259.1H1970C2000 1259.1 2018 1259.7 2030 1262.6C2010 1263.5 1990 1263.5 1970 1263.5H1730Z" fill="#000"/>
<path d="M1729 1260.5V1240.3H1738" stroke="#000" stroke-width="4.3" fill="none"/>
<path d="M1737.3 1229.7L1758.8 1240.3L1737.3 1250.9Z" fill="#000" stroke="#000" stroke-width="1.6" stroke-linejoin="round"/>
<path d="M1955.5 1240.5V1261" stroke="#000" stroke-width="4.4" fill="none"/>
<path d="M1941.82 1176.9L1968.58 1176.9L1987.5 1195.82L1987.5 1222.58L1968.58 1241.5L1941.82 1241.5L1922.9 1222.58L1922.9 1195.82Z" fill="#E02B27"/>
<path d="M1983.3 1197.56L1983.3 1220.84L1966.84 1237.3L1943.56 1237.3L1927.1 1220.84" fill="none" stroke="#fff" stroke-opacity="0.55" stroke-width="0.9"/>
<path d="M1733.67 1202.35C1734.66 1202.75 1737.82 1206.36 1739.59 1204.72C1741.37 1203.08 1742.22 1194.2 1744.33 1192.49C1746.43 1190.78 1750.25 1196.3 1752.22 1194.46C1754.19 1192.62 1753.67 1182.42 1756.17 1181.44C1758.67 1180.45 1764.46 1188.54 1767.22 1188.54C1769.98 1188.54 1770.05 1181.44 1772.74 1181.44C1775.44 1181.44 1780.9 1189.53 1783.4 1188.54C1785.9 1187.55 1785.5 1177.36 1787.74 1175.52C1789.98 1173.68 1794.78 1179.33 1796.82 1177.49C1798.85 1175.65 1797.6 1165.45 1799.97 1164.47C1802.34 1163.48 1808.26 1171.64 1811.02 1171.57C1813.78 1171.5 1814.71 1164.89 1816.55 1164.07C1818.39 1163.26 1821.15 1166.24 1822.07 1166.68" fill="none" stroke="#E0262B" stroke-width="3.5" stroke-linejoin="round" stroke-linecap="round"/>
<path d="M1822 1166.4Q1825 1168 1828.2 1166.6" fill="none" stroke="#E0262B" stroke-width="2" stroke-linecap="round"/>
<path d="M1733.67 1202.35C1733.94 1200.41 1730.91 1198.1 1728.94 1196.99C1726.97 1195.87 1724.2 1195.97 1721.84 1195.64C1719.47 1195.31 1717.03 1194.68 1714.73 1195.01C1712.43 1195.34 1709.73 1196.26 1708.02 1197.62C1706.31 1198.97 1704.8 1201.04 1704.47 1203.14C1704.14 1205.25 1705.19 1208.34 1706.05 1210.24C1706.9 1212.15 1708.15 1213.66 1709.6 1214.59C1711.05 1215.51 1712.82 1215.9 1714.73 1215.77C1716.64 1215.64 1718.94 1214.98 1721.05 1213.8C1723.15 1212.61 1725.26 1210.57 1727.36 1208.67C1729.46 1206.76 1733.41 1204.3 1733.67 1202.35Z" fill="#E0262B"/>
<clipPath id="exc"><path d="M1839.2 1137.7C1839.57 1135.38 1839.53 1128.73 1841.4 1123.8C1843.27 1118.87 1846.1 1112.97 1850.4 1108.1C1854.7 1103.23 1861.05 1098.05 1867.2 1094.6C1873.35 1091.15 1881.7 1088.75 1887.3 1087.4C1892.9 1086.05 1895.75 1085.95 1900.8 1086.5C1905.85 1087.05 1912.38 1088.42 1917.6 1090.7C1922.82 1092.98 1928.37 1096.37 1932.1 1100.2C1935.83 1104.03 1938.4 1109.4 1940 1113.7C1941.6 1118 1942.08 1121.15 1941.7 1126C1941.32 1130.85 1940.23 1137.2 1937.7 1142.8C1935.17 1148.4 1930.78 1155.12 1926.5 1159.6C1922.22 1164.08 1917.22 1167.08 1912 1169.7C1906.78 1172.32 1900.43 1174.28 1895.2 1175.3C1889.97 1176.32 1885.63 1176.18 1880.6 1175.8C1875.57 1175.42 1869.75 1174.68 1865 1173C1860.25 1171.32 1854.25 1166.92 1852.1 1165.7C1853.87 1165.33 1858.7 1165.27 1862.7 1163.5C1866.7 1161.73 1871.07 1158 1876.1 1155.1C1881.13 1152.2 1888.78 1149.08 1892.9 1146.1C1897.02 1143.12 1899.4 1139.8 1900.8 1137.2C1902.2 1134.6 1901.68 1132.93 1901.3 1130.5C1900.92 1128.07 1900.45 1124.75 1898.5 1122.6C1896.55 1120.45 1892.58 1118.43 1889.6 1117.6C1886.62 1116.77 1884.33 1116.57 1880.6 1117.6C1876.87 1118.63 1871.67 1121.28 1867.2 1123.8C1862.73 1126.32 1858.47 1130.38 1853.8 1132.7C1849.13 1135.02 1841.63 1136.87 1839.2 1137.7Z"/></clipPath>
<path d="M1839.2 1137.7C1839.57 1135.38 1839.53 1128.73 1841.4 1123.8C1843.27 1118.87 1846.1 1112.97 1850.4 1108.1C1854.7 1103.23 1861.05 1098.05 1867.2 1094.6C1873.35 1091.15 1881.7 1088.75 1887.3 1087.4C1892.9 1086.05 1895.75 1085.95 1900.8 1086.5C1905.85 1087.05 1912.38 1088.42 1917.6 1090.7C1922.82 1092.98 1928.37 1096.37 1932.1 1100.2C1935.83 1104.03 1938.4 1109.4 1940 1113.7C1941.6 1118 1942.08 1121.15 1941.7 1126C1941.32 1130.85 1940.23 1137.2 1937.7 1142.8C1935.17 1148.4 1930.78 1155.12 1926.5 1159.6C1922.22 1164.08 1917.22 1167.08 1912 1169.7C1906.78 1172.32 1900.43 1174.28 1895.2 1175.3C1889.97 1176.32 1885.63 1176.18 1880.6 1175.8C1875.57 1175.42 1869.75 1174.68 1865 1173C1860.25 1171.32 1854.25 1166.92 1852.1 1165.7C1853.87 1165.33 1858.7 1165.27 1862.7 1163.5C1866.7 1161.73 1871.07 1158 1876.1 1155.1C1881.13 1152.2 1888.78 1149.08 1892.9 1146.1C1897.02 1143.12 1899.4 1139.8 1900.8 1137.2C1902.2 1134.6 1901.68 1132.93 1901.3 1130.5C1900.92 1128.07 1900.45 1124.75 1898.5 1122.6C1896.55 1120.45 1892.58 1118.43 1889.6 1117.6C1886.62 1116.77 1884.33 1116.57 1880.6 1117.6C1876.87 1118.63 1871.67 1121.28 1867.2 1123.8C1862.73 1126.32 1858.47 1130.38 1853.8 1132.7C1849.13 1135.02 1841.63 1136.87 1839.2 1137.7Z" fill="#3A0F4D"/>
<g clip-path="url(#exc)"><ellipse cx="1886" cy="1129.5" rx="51.5" ry="47.5" transform="rotate(-24 1886 1129.5)" fill="#9459A6"/></g>
<path d="M1839.2 1137.7C1839.57 1135.38 1839.53 1128.73 1841.4 1123.8C1843.27 1118.87 1846.1 1112.97 1850.4 1108.1C1854.7 1103.23 1861.05 1098.05 1867.2 1094.6C1873.35 1091.15 1881.7 1088.75 1887.3 1087.4C1892.9 1086.05 1895.75 1085.95 1900.8 1086.5C1905.85 1087.05 1912.38 1088.42 1917.6 1090.7C1922.82 1092.98 1928.37 1096.37 1932.1 1100.2C1935.83 1104.03 1938.4 1109.4 1940 1113.7C1941.6 1118 1942.08 1121.15 1941.7 1126C1941.32 1130.85 1940.23 1137.2 1937.7 1142.8C1935.17 1148.4 1930.78 1155.12 1926.5 1159.6C1922.22 1164.08 1917.22 1167.08 1912 1169.7C1906.78 1172.32 1900.43 1174.28 1895.2 1175.3C1889.97 1176.32 1885.63 1176.18 1880.6 1175.8C1875.57 1175.42 1869.75 1174.68 1865 1173C1860.25 1171.32 1854.25 1166.92 1852.1 1165.7C1853.87 1165.33 1858.7 1165.27 1862.7 1163.5C1866.7 1161.73 1871.07 1158 1876.1 1155.1C1881.13 1152.2 1888.78 1149.08 1892.9 1146.1C1897.02 1143.12 1899.4 1139.8 1900.8 1137.2C1902.2 1134.6 1901.68 1132.93 1901.3 1130.5C1900.92 1128.07 1900.45 1124.75 1898.5 1122.6C1896.55 1120.45 1892.58 1118.43 1889.6 1117.6C1886.62 1116.77 1884.33 1116.57 1880.6 1117.6C1876.87 1118.63 1871.67 1121.28 1867.2 1123.8C1862.73 1126.32 1858.47 1130.38 1853.8 1132.7C1849.13 1135.02 1841.63 1136.87 1839.2 1137.7Z" fill="none" stroke="#000" stroke-width="0.9" stroke-linejoin="round"/>
<ellipse cx="1906.6" cy="1092.6" rx="14" ry="2.9" transform="rotate(19 1906.6 1092.6)" fill="#B587C3"/>
<text x="1897.3" y="1113.2" text-anchor="middle" font-family="'Liberation Sans',Arial,Helvetica,sans-serif" font-size="16.2" fill="#fff">Exosome</text>
<text transform="translate(1830.4 1166) rotate(-23.2)" font-family="'Liberation Sans',Arial,Helvetica,sans-serif" font-size="20.8" fill="#000">AAAAA</text>
<g transform="translate(1971.2 1302.2) rotate(10.4) scale(0.8)">
<clipPath id="r2"><path d="M-44.5 -30.5C-42.43 -31.22 -38.2 -33.75 -32.1 -34.8C-26 -35.85 -15.15 -36.63 -7.9 -36.8C-0.65 -36.97 5.77 -36.93 11.4 -35.8C17.03 -34.67 21.87 -32.73 25.9 -30C29.93 -27.27 33.1 -23.6 35.6 -19.4C38.1 -15.2 40.08 -9.32 40.9 -4.8C41.72 -0.28 41.7 3.18 40.5 7.7C39.3 12.22 36.93 18.27 33.7 22.3C30.47 26.33 26.43 29.48 21.1 31.9C15.77 34.32 7.35 36.47 1.7 36.8C-3.95 37.13 -7.65 36 -12.8 33.9C-17.95 31.8 -25.02 28.08 -29.2 24.2C-33.38 20.32 -35.88 14.95 -37.9 10.6C-39.92 6.25 -41.13 1.8 -41.3 -1.9C-41.47 -5.6 -40.43 -8.85 -38.9 -11.6C-37.37 -14.35 -35.25 -15.98 -32.1 -18.4C-28.95 -20.82 -22.02 -24.82 -20 -26.1Q-32.5 -27 -44.5 -30.5 Z"/></clipPath>
<path d="M-44.5 -30.5C-42.43 -31.22 -38.2 -33.75 -32.1 -34.8C-26 -35.85 -15.15 -36.63 -7.9 -36.8C-0.65 -36.97 5.77 -36.93 11.4 -35.8C17.03 -34.67 21.87 -32.73 25.9 -30C29.93 -27.27 33.1 -23.6 35.6 -19.4C38.1 -15.2 40.08 -9.32 40.9 -4.8C41.72 -0.28 41.7 3.18 40.5 7.7C39.3 12.22 36.93 18.27 33.7 22.3C30.47 26.33 26.43 29.48 21.1 31.9C15.77 34.32 7.35 36.47 1.7 36.8C-3.95 37.13 -7.65 36 -12.8 33.9C-17.95 31.8 -25.02 28.08 -29.2 24.2C-33.38 20.32 -35.88 14.95 -37.9 10.6C-39.92 6.25 -41.13 1.8 -41.3 -1.9C-41.47 -5.6 -40.43 -8.85 -38.9 -11.6C-37.37 -14.35 -35.25 -15.98 -32.1 -18.4C-28.95 -20.82 -22.02 -24.82 -20 -26.1Q-32.5 -27 -44.5 -30.5 Z" fill="#2F2A6C"/>
<g clip-path="url(#r2)"><path d="M-44.5 -30.5C-42.43 -31.22 -38.2 -33.75 -32.1 -34.8C-26 -35.85 -15.15 -36.63 -7.9 -36.8C-0.65 -36.97 5.77 -36.93 11.4 -35.8C17.03 -34.67 21.87 -32.73 25.9 -30C29.93 -27.27 33.1 -23.6 35.6 -19.4C38.1 -15.2 40.08 -9.32 40.9 -4.8C41.72 -0.28 41.7 3.18 40.5 7.7C39.3 12.22 36.93 18.27 33.7 22.3C30.47 26.33 26.43 29.48 21.1 31.9C15.77 34.32 7.35 36.47 1.7 36.8C-3.95 37.13 -7.65 36 -12.8 33.9C-17.95 31.8 -25.02 28.08 -29.2 24.2C-33.38 20.32 -35.88 14.95 -37.9 10.6C-39.92 6.25 -41.13 1.8 -41.3 -1.9C-41.47 -5.6 -40.43 -8.85 -38.9 -11.6C-37.37 -14.35 -35.25 -15.98 -32.1 -18.4C-28.95 -20.82 -22.02 -24.82 -20 -26.1Q-32.5 -27 -44.5 -30.5 Z" transform="translate(-4.62 -5.76) scale(0.985)" fill="#6E85C1"/><path d="M-46 -32L-8 -38L-8 -24L-46 -29Z" fill="#6E85C1"/></g>
<path d="M-44.5 -30.5C-42.43 -31.22 -38.2 -33.75 -32.1 -34.8C-26 -35.85 -15.15 -36.63 -7.9 -36.8C-0.65 -36.97 5.77 -36.93 11.4 -35.8C17.03 -34.67 21.87 -32.73 25.9 -30C29.93 -27.27 33.1 -23.6 35.6 -19.4C38.1 -15.2 40.08 -9.32 40.9 -4.8C41.72 -0.28 41.7 3.18 40.5 7.7C39.3 12.22 36.93 18.27 33.7 22.3C30.47 26.33 26.43 29.48 21.1 31.9C15.77 34.32 7.35 36.47 1.7 36.8C-3.95 37.13 -7.65 36 -12.8 33.9C-17.95 31.8 -25.02 28.08 -29.2 24.2C-33.38 20.32 -35.88 14.95 -37.9 10.6C-39.92 6.25 -41.13 1.8 -41.3 -1.9C-41.47 -5.6 -40.43 -8.85 -38.9 -11.6C-37.37 -14.35 -35.25 -15.98 -32.1 -18.4C-28.95 -20.82 -22.02 -24.82 -20 -26.1Q-32.5 -27 -44.5 -30.5 Z" fill="none" stroke="#000" stroke-width="1.12" stroke-linejoin="round"/>
<ellipse cx="15.6" cy="-29.4" rx="11" ry="2.2" transform="rotate(25 15.6 -29.4)" fill="#B4A8DC"/>
</g>
<text transform="translate(1971.2 1302.2) rotate(11.5)" x="0" y="4.8" text-anchor="middle" font-family="'Liberation Sans',Arial,Helvetica,sans-serif" font-size="16.2" fill="#fff">RNAPII</text>
<path d="M1387.8 1579.6C1399.8 1576.7 1417.8 1576.1 1447.8 1576.1H1889.5C1919.5 1576.1 1937.5 1576.7 1949.5 1579.6C1929.5 1580.5 1909.5 1580.5 1889.5 1580.5H1427.8Z" fill="#000"/>
<path d="M1435.5 1578V1556.6H1444.5" stroke="#000" stroke-width="4.3" fill="none"/>
<path d="M1443.8 1546L1465.3 1556.6L1443.8 1567.2Z" fill="#000" stroke="#000" stroke-width="1.6" stroke-linejoin="round"/>
<path d="M1665.9 1562.6V1578" stroke="#000" stroke-width="4.4" fill="none"/>
<path d="M1652.93 1502.4L1678.27 1502.4L1696.2 1520.33L1696.2 1545.67L1678.27 1563.6L1652.93 1563.6L1635 1545.67L1635 1520.33Z" fill="url(#fadeg)"/>
<path d="M1441.9 1540.02C1444.08 1539.72 1450.4 1536.62 1454.98 1538.19C1459.55 1539.76 1464.78 1549.22 1469.36 1549.43C1473.94 1549.65 1477.86 1540.41 1482.43 1539.5C1487.01 1538.58 1492.24 1544.95 1496.81 1543.94C1501.39 1542.94 1505.53 1533.48 1509.89 1533.48C1514.25 1533.48 1518.82 1542.94 1522.96 1543.94C1527.1 1544.95 1530.15 1538.5 1534.73 1539.5C1539.3 1540.5 1545.71 1549.96 1550.42 1549.96C1555.12 1549.96 1558.61 1540.5 1562.97 1539.5C1567.32 1538.5 1572.12 1544.95 1576.56 1543.94C1581.01 1542.94 1585.5 1533.48 1589.64 1533.48C1593.78 1533.48 1597.26 1542.94 1601.4 1543.94C1605.54 1544.95 1609.9 1538.5 1614.48 1539.5C1619.05 1540.5 1624.06 1549.96 1628.86 1549.96C1633.65 1549.96 1638.66 1540.5 1643.24 1539.5C1647.81 1538.5 1651.95 1544.95 1656.31 1543.94C1660.67 1542.94 1665.03 1533.48 1669.39 1533.48C1673.74 1533.48 1678.32 1542.94 1682.46 1543.94C1686.6 1544.95 1689.65 1538.58 1694.23 1539.5C1698.8 1540.41 1705.12 1549.43 1709.91 1549.43C1714.71 1549.43 1718.63 1540.41 1722.99 1539.5C1727.35 1538.58 1731.7 1544.81 1736.06 1543.94C1740.42 1543.07 1744.78 1534.27 1749.13 1534.27C1753.49 1534.27 1759.07 1542.55 1762.21 1543.94C1765.35 1545.34 1767 1542.85 1767.96 1542.64" fill="none" stroke="#E0262B" stroke-width="3.8" stroke-linejoin="round" stroke-linecap="round"/>
<path d="M1767.5 1542.4H1776" stroke="#E0262B" stroke-width="2.6" stroke-dasharray="3 2" fill="none"/>
<path d="M0 0C-3 -3.5 -5.6 -8.4 -8.9 -11.4C-10.38 -12.13 -15.17 -15.48 -17.8 -15.8C-20.43 -16.12 -22.93 -15.03 -24.7 -13.3C-26.47 -11.57 -28.08 -7.87 -28.4 -5.4C-28.72 -2.93 -28.05 -0.3 -26.6 1.5C-25.15 3.3 -22.48 5 -19.7 5.4C-16.92 5.8 -11.53 4.15 -9.9 3.9C-6 2.6 -3 1.2 0 0Z" transform="translate(1442.6 1541) rotate(-13) scale(1.1)" fill="#E0262B"/>
<g transform="translate(1613.3 1486.5) rotate(0) scale(1)" fill="#CBCBCB" stroke="none">
<path d="M-3.3 -10.6L3 -10.6L3 2.4Q2.9 8 2.2 13.3Q1.6 21 0.3 26.9Q-0.8 31.4 -2.7 34L-3.3 33.4L-3.3 0.3Z"/>
<path d="M9 -8.4L11.7 -3.5L3 1.4L-10.6 9.5L-26.9 19.2L-27.3 18.5Q-25 15 -21.5 12.2Q-13 5 -3.3 -1.9Z"/>
<ellipse cx="0.5" cy="-20.4" rx="5.6" ry="8.9" fill="none" stroke="#CBCBCB" stroke-width="4.3"/>
<ellipse cx="18.7" cy="-12" rx="8.3" ry="5.5" transform="rotate(-28 18.7 -12)" fill="none" stroke="#CBCBCB" stroke-width="4.3"/>
<circle cx="0" cy="0" r="0.85" fill="#fff"/>
</g>
<rect x="1784.9" y="1474.7" width="33" height="33" rx="7" transform="rotate(-20 1801.4 1491.2)" fill="#4FB760"/>
<path d="M1842.6 1497.8L1864.9 1495L1858.3 1517.9Z" fill="#C8703A" stroke="#C8703A" stroke-width="9" stroke-linejoin="round" fill-opacity="1" stroke-opacity="1"/>
<ellipse cx="1830.8" cy="1495.4" rx="18" ry="14.4" fill="#97C5E4" fill-opacity="0.88"/>
<path d="M1766.6 1525.2Q1757.6 1530.4 1757.9 1537.6M1776.8 1525.7Q1760.4 1539.7 1771.9 1559.6" fill="none" stroke="#000" stroke-width="2.2" stroke-linecap="round"/>
<g transform="translate(1815.7 1543.6) rotate(0) scale(1)">
<clipPath id="r3"><path d="M-44.5 -30.5C-42.43 -31.22 -38.2 -33.75 -32.1 -34.8C-26 -35.85 -15.15 -36.63 -7.9 -36.8C-0.65 -36.97 5.77 -36.93 11.4 -35.8C17.03 -34.67 21.87 -32.73 25.9 -30C29.93 -27.27 33.1 -23.6 35.6 -19.4C38.1 -15.2 40.08 -9.32 40.9 -4.8C41.72 -0.28 41.7 3.18 40.5 7.7C39.3 12.22 36.93 18.27 33.7 22.3C30.47 26.33 26.43 29.48 21.1 31.9C15.77 34.32 7.35 36.47 1.7 36.8C-3.95 37.13 -7.65 36 -12.8 33.9C-17.95 31.8 -25.02 28.08 -29.2 24.2C-33.38 20.32 -35.88 14.95 -37.9 10.6C-39.92 6.25 -41.13 1.8 -41.3 -1.9C-41.47 -5.6 -40.43 -8.85 -38.9 -11.6C-37.37 -14.35 -35.25 -15.98 -32.1 -18.4C-28.95 -20.82 -22.02 -24.82 -20 -26.1Q-32.5 -27 -44.5 -30.5 Z"/></clipPath>
<path d="M-44.5 -30.5C-42.43 -31.22 -38.2 -33.75 -32.1 -34.8C-26 -35.85 -15.15 -36.63 -7.9 -36.8C-0.65 -36.97 5.77 -36.93 11.4 -35.8C17.03 -34.67 21.87 -32.73 25.9 -30C29.93 -27.27 33.1 -23.6 35.6 -19.4C38.1 -15.2 40.08 -9.32 40.9 -4.8C41.72 -0.28 41.7 3.18 40.5 7.7C39.3 12.22 36.93 18.27 33.7 22.3C30.47 26.33 26.43 29.48 21.1 31.9C15.77 34.32 7.35 36.47 1.7 36.8C-3.95 37.13 -7.65 36 -12.8 33.9C-17.95 31.8 -25.02 28.08 -29.2 24.2C-33.38 20.32 -35.88 14.95 -37.9 10.6C-39.92 6.25 -41.13 1.8 -41.3 -1.9C-41.47 -5.6 -40.43 -8.85 -38.9 -11.6C-37.37 -14.35 -35.25 -15.98 -32.1 -18.4C-28.95 -20.82 -22.02 -24.82 -20 -26.1Q-32.5 -27 -44.5 -30.5 Z" fill="#2F2A6C"/>
<g clip-path="url(#r3)"><path d="M-44.5 -30.5C-42.43 -31.22 -38.2 -33.75 -32.1 -34.8C-26 -35.85 -15.15 -36.63 -7.9 -36.8C-0.65 -36.97 5.77 -36.93 11.4 -35.8C17.03 -34.67 21.87 -32.73 25.9 -30C29.93 -27.27 33.1 -23.6 35.6 -19.4C38.1 -15.2 40.08 -9.32 40.9 -4.8C41.72 -0.28 41.7 3.18 40.5 7.7C39.3 12.22 36.93 18.27 33.7 22.3C30.47 26.33 26.43 29.48 21.1 31.9C15.77 34.32 7.35 36.47 1.7 36.8C-3.95 37.13 -7.65 36 -12.8 33.9C-17.95 31.8 -25.02 28.08 -29.2 24.2C-33.38 20.32 -35.88 14.95 -37.9 10.6C-39.92 6.25 -41.13 1.8 -41.3 -1.9C-41.47 -5.6 -40.43 -8.85 -38.9 -11.6C-37.37 -14.35 -35.25 -15.98 -32.1 -18.4C-28.95 -20.82 -22.02 -24.82 -20 -26.1Q-32.5 -27 -44.5 -30.5 Z" transform="translate(-2.8 -5.2) scale(0.985)" fill="#6E85C1"/><path d="M-46 -32L-8 -38L-8 -24L-46 -29Z" fill="#6E85C1"/></g>
<path d="M-44.5 -30.5C-42.43 -31.22 -38.2 -33.75 -32.1 -34.8C-26 -35.85 -15.15 -36.63 -7.9 -36.8C-0.65 -36.97 5.77 -36.93 11.4 -35.8C17.03 -34.67 21.87 -32.73 25.9 -30C29.93 -27.27 33.1 -23.6 35.6 -19.4C38.1 -15.2 40.08 -9.32 40.9 -4.8C41.72 -0.28 41.7 3.18 40.5 7.7C39.3 12.22 36.93 18.27 33.7 22.3C30.47 26.33 26.43 29.48 21.1 31.9C15.77 34.32 7.35 36.47 1.7 36.8C-3.95 37.13 -7.65 36 -12.8 33.9C-17.95 31.8 -25.02 28.08 -29.2 24.2C-33.38 20.32 -35.88 14.95 -37.9 10.6C-39.92 6.25 -41.13 1.8 -41.3 -1.9C-41.47 -5.6 -40.43 -8.85 -38.9 -11.6C-37.37 -14.35 -35.25 -15.98 -32.1 -18.4C-28.95 -20.82 -22.02 -24.82 -20 -26.1Q-32.5 -27 -44.5 -30.5 Z" fill="none" stroke="#000" stroke-width="0.9" stroke-linejoin="round"/>
<ellipse cx="15.6" cy="-29.4" rx="11" ry="2.2" transform="rotate(25 15.6 -29.4)" fill="#B4A8DC"/>
</g>
<text transform="translate(1815.7 1543.6) rotate(0)" x="1.3" y="6.6" text-anchor="middle" font-family="'Liberation Sans',Arial,Helvetica,sans-serif" font-size="16.2" fill="#fff">RNAPII</text>
<g font-family="'Liberation Sans',Arial,Helvetica,sans-serif" font-size="29" fill="#000">
<text x="1460.5" y="1018.7" text-anchor="middle">Promoter-proximal</text>
<text x="1456.4" y="1053.8" text-anchor="middle">stalling</text>
<text x="1837.2" y="1018.7" text-anchor="middle">Premature termination</text>
<text x="1639" y="1436.3" text-anchor="middle">EFs supress cleavage</text>
<text x="1336.8" y="1299" text-anchor="middle">TSS</text>
<text x="1569.2" y="1290.6" text-anchor="middle">100 nts</text>
</g>
<text x="1292.4" y="942" font-family="'Liberation Sans',Arial,Helvetica,sans-serif" font-weight="bold" font-size="42" fill="#000">e</text>
</g>
</svg>
</body></html>
